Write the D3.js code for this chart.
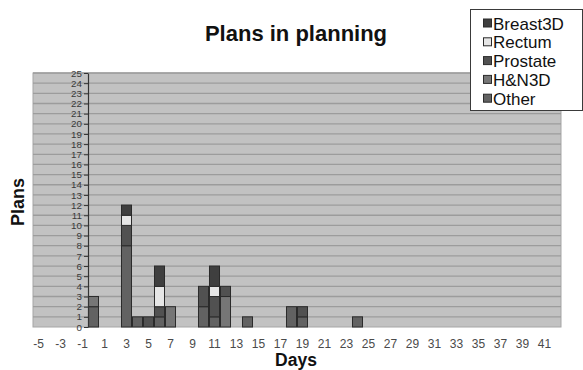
<!DOCTYPE html>
<html>
<head>
<meta charset="utf-8">
<script src="https://cdn.jsdelivr.net/npm/d3@7"></script>
<style>
  html, body { margin: 0; padding: 0; background: #fff; }
  svg { display: block; font-family: "Liberation Sans", Arial, sans-serif; }
</style>
</head>
<body>
<svg id="chart" width="583" height="370"></svg>
<script>
// Days relative to the start of planning
const days = [-5, -4, -3, -2, -1, 0, 1, 2, 3, 4, 5, 6, 7, 8, 9, 10, 11, 12, 13, 14,
  15, 16, 17, 18, 19, 20, 21, 22, 23, 24, 25, 26, 27, 28, 29, 30, 31, 32, 33, 34,
  35, 36, 37, 38, 39, 40, 41, 42];

// Plans per day, one array per treatment type (same order as days)
const other    = [0, 0, 0, 0, 0, 2, 0, 0, 8, 1, 0, 1, 0, 0, 0, 2, 1, 0, 0, 1,
  0, 0, 0, 2, 1, 0, 0, 0, 0, 1, 0, 0, 0, 0, 0, 0, 0, 0, 0, 0, 0, 0, 0, 0, 0, 0, 0, 0];
const hn3d     = [0, 0, 0, 0, 0, 1, 0, 0, 0, 0, 0, 0, 2, 0, 0, 0, 0, 3, 0, 0,
  0, 0, 0, 0, 0, 0, 0, 0, 0, 0, 0, 0, 0, 0, 0, 0, 0, 0, 0, 0, 0, 0, 0, 0, 0, 0, 0, 0];
const prostate = [0, 0, 0, 0, 0, 0, 0, 0, 2, 0, 1, 1, 0, 0, 0, 2, 2, 1, 0, 0,
  0, 0, 0, 0, 1, 0, 0, 0, 0, 0, 0, 0, 0, 0, 0, 0, 0, 0, 0, 0, 0, 0, 0, 0, 0, 0, 0, 0];
const rectum   = [0, 0, 0, 0, 0, 0, 0, 0, 1, 0, 0, 2, 0, 0, 0, 0, 1, 0, 0, 0,
  0, 0, 0, 0, 0, 0, 0, 0, 0, 0, 0, 0, 0, 0, 0, 0, 0, 0, 0, 0, 0, 0, 0, 0, 0, 0, 0, 0];
const breast3d = [0, 0, 0, 0, 0, 0, 0, 0, 1, 0, 0, 2, 0, 0, 0, 0, 2, 0, 0, 0,
  0, 0, 0, 0, 0, 0, 0, 0, 0, 0, 0, 0, 0, 0, 0, 0, 0, 0, 0, 0, 0, 0, 0, 0, 0, 0, 0, 0];

// Stack order, bottom to top
const seriesNames = ["Other", "H&N3D", "Prostate", "Rectum", "Breast3D"];
const seriesValues = [other, hn3d, prostate, rectum, breast3d];
const seriesColors = ["#626262", "#767676", "#515151", "#e6e6e6", "#3f3f3f"];

// Legend order, top to bottom
const legendNames = ["Breast3D", "Rectum", "Prostate", "H&N3D", "Other"];

// Value axis ticks
const yTicks = [0, 1, 2, 3, 4, 5, 6, 7, 8, 9, 10, 11, 12, 13, 14, 15, 16, 17, 18, 19,
  20, 21, 22, 23, 24, 25];
// Day labels shown under the category axis
const xLabels = [-5, -3, -1, 1, 3, 5, 7, 9, 11, 13, 15, 17, 19, 21, 23, 25, 27, 29,
  31, 33, 35, 37, 39, 41];

const FONT = "'Liberation Sans', Arial, sans-serif";
const svg = d3.select("#chart");
const plot = { left: 33, right: 561, top: 73, bottom: 327 };

const x = d3.scaleBand().domain(days).range([plot.left, plot.right]).paddingInner(0.09).paddingOuter(0.045);
const y = d3.scaleLinear().domain([0, 25]).range([plot.bottom, plot.top]);

// Plot background
svg.append("rect")
  .attr("x", plot.left).attr("y", plot.top)
  .attr("width", plot.right - plot.left).attr("height", plot.bottom - plot.top)
  .attr("fill", "#c2c2c2").attr("stroke", "#a6a6a6").attr("stroke-width", 1);

// Horizontal gridlines
svg.append("g").selectAll("line")
  .data(yTicks.filter(d => d > 0))
  .join("line")
  .attr("x1", plot.left).attr("x2", plot.right)
  .attr("y1", d => y(d)).attr("y2", d => y(d))
  .attr("stroke", "#9c9c9c").attr("stroke-width", 1.3);

// Stacked bars
const table = days.map((d, i) => {
  const row = { day: d };
  seriesNames.forEach((n, k) => { row[n] = seriesValues[k][i]; });
  return row;
});
const stacked = d3.stack().keys(seriesNames)(table);

svg.append("g").selectAll("g")
  .data(stacked)
  .join("g")
  .attr("fill", (s, k) => seriesColors[k])
  .selectAll("rect")
  .data(s => s.filter(p => p[1] > p[0]))
  .join("rect")
  .attr("x", p => x(p.data.day))
  .attr("width", x.bandwidth())
  .attr("y", p => y(p[1]))
  .attr("height", p => y(p[0]) - y(p[1]))
  .attr("stroke", "#2b2b2b")
  .attr("stroke-width", 1);

// Value axis, crossing at the left edge of day 0
const axisX = x(0) - (x.step() - x.bandwidth()) / 2;
const yAxis = svg.append("g")
  .attr("transform", `translate(${axisX},0)`)
  .call(d3.axisLeft(y).tickValues(yTicks).tickSize(4).tickPadding(2).tickSizeOuter(0));
yAxis.select(".domain").attr("stroke", "#333").attr("stroke-width", 1.2);
yAxis.selectAll(".tick line").attr("stroke", "#333");
yAxis.selectAll(".tick text")
  .attr("font-size", 9.8).attr("fill", "#3a3a3a")
  .attr("font-family", FONT);

// Category axis labels
const xAxis = svg.append("g")
  .attr("transform", `translate(0,${plot.bottom})`)
  .call(d3.axisBottom(x).tickValues(xLabels).tickSize(0).tickPadding(12));
xAxis.select(".domain").remove();
xAxis.selectAll(".tick text")
  .attr("font-size", 12).attr("fill", "#4a4a4a")
  .attr("font-family", FONT);

// Title
svg.append("text")
  .attr("x", 296).attr("y", 41)
  .attr("text-anchor", "middle")
  .attr("font-family", FONT)
  .attr("font-size", 22).attr("font-weight", "bold").attr("fill", "#111")
  .text("Plans in planning");

// Axis titles
svg.append("text")
  .attr("x", 296).attr("y", 366)
  .attr("text-anchor", "middle")
  .attr("font-family", FONT)
  .attr("font-size", 17.5).attr("font-weight", "bold").attr("fill", "#111")
  .text("Days");

svg.append("text")
  .attr("transform", "translate(24,202) rotate(-90)")
  .attr("text-anchor", "middle")
  .attr("font-family", FONT)
  .attr("font-size", 18).attr("font-weight", "bold").attr("fill", "#111")
  .text("Plans");

// Legend
const legend = svg.append("g").attr("transform", "translate(470,9)");
legend.append("rect")
  .attr("x", 0.5).attr("y", 0.5).attr("width", 112).attr("height", 101)
  .attr("fill", "#fff").attr("stroke", "#3a3a3a").attr("stroke-width", 1);

const item = legend.selectAll("g.item")
  .data(legendNames)
  .join("g")
  .attr("class", "item")
  .attr("transform", (d, i) => `translate(0,${14.5 + i * 18.8})`);
item.append("rect")
  .attr("x", 13.5).attr("y", -4.5).attr("width", 8).attr("height", 8)
  .attr("fill", d => seriesColors[seriesNames.indexOf(d)])
  .attr("stroke", "#2b2b2b").attr("stroke-width", 1);
item.append("text")
  .attr("x", 23).attr("y", 6)
  .attr("font-family", FONT)
  .attr("font-size", 17).attr("fill", "#111")
  .text(d => d);
</script>
</body>
</html>
